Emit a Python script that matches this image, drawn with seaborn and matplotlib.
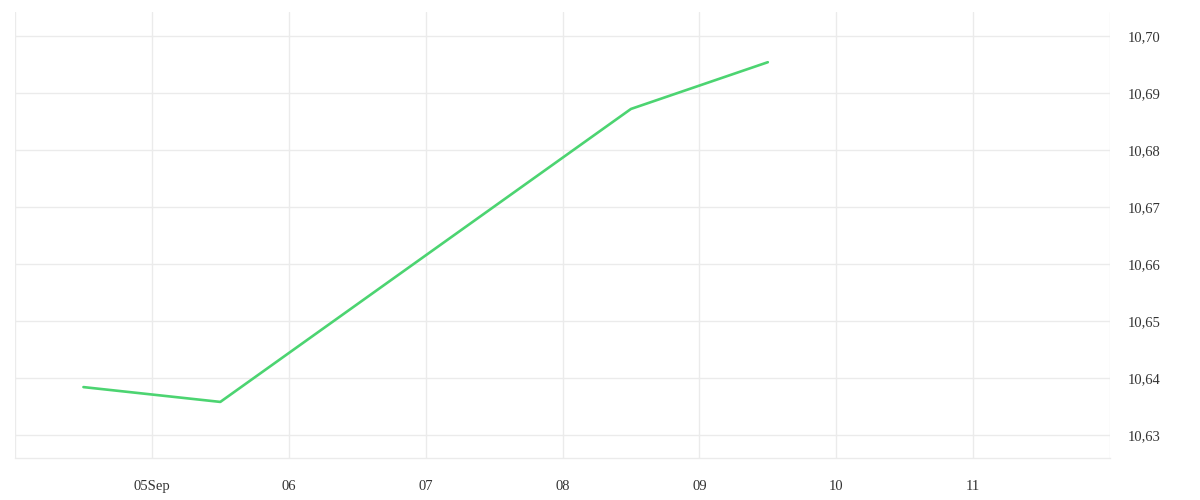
import numpy as np
import pandas as pd
import matplotlib
matplotlib.use("Agg")
import matplotlib.pyplot as plt
import matplotlib.dates as mdates
import matplotlib.ticker as mticker
import seaborn as sns

# data
dates = ["2023-09-04 12:00", "2023-09-05 12:00", "2023-09-08 12:00", "2023-09-09 12:00"]
values = [10.6384, 10.6358, 10.6872, 10.6954]
tick_days = ["2023-09-04", "2023-09-05", "2023-09-06", "2023-09-07", "2023-09-08",
             "2023-09-09", "2023-09-10", "2023-09-11", "2023-09-12"]
tick_labels = ["", "05Sep", "06", "07", "08", "09", "10", "11", ""]
y_ticks = [10.63, 10.64, 10.65, 10.66, 10.67, 10.68, 10.69, 10.70]

df = pd.DataFrame({"date": pd.to_datetime(dates), "value": values})

sns.set_style("white")
plt.rcParams['font.family'] = ['Liberation Serif', 'DejaVu Serif']

grid_col = "#ebebeb"
text_col = "#333333"

fig = plt.figure(figsize=(12, 5), dpi=100)
ax = fig.add_axes([15 / 1200, 42 / 500, 1095 / 1200, 446 / 500])

sns.lineplot(data=df, x="date", y="value", ax=ax, color="#4cd471", linewidth=1.9)

ticks = pd.to_datetime(tick_days)
ax.set_xlim(ticks[0], ticks[-1])
ax.set_xticks(ticks)
ax.set_xticklabels(tick_labels)
ax.set_ylim(10.62596, 10.70421)
ax.set_yticks(y_ticks)
ax.yaxis.set_major_formatter(mticker.FuncFormatter(lambda v, p: f"{v:.2f}".replace(".", ",")))
ax.yaxis.tick_right()

ax.grid(True, color=grid_col, linewidth=1)
ax.tick_params(axis="x", length=6.5, color=grid_col, width=1, pad=9,
               labelsize=10.5, labelcolor=text_col)
ax.tick_params(axis="y", length=0, pad=13, labelsize=10.5, labelcolor=text_col)

for s in ["top", "left", "right"]:
    ax.spines[s].set_visible(False)
ax.spines["bottom"].set_color(grid_col)
ax.spines["bottom"].set_linewidth(1)

ax.set_xlabel("")
ax.set_ylabel("")

fig.savefig("out.png", dpi=100)
